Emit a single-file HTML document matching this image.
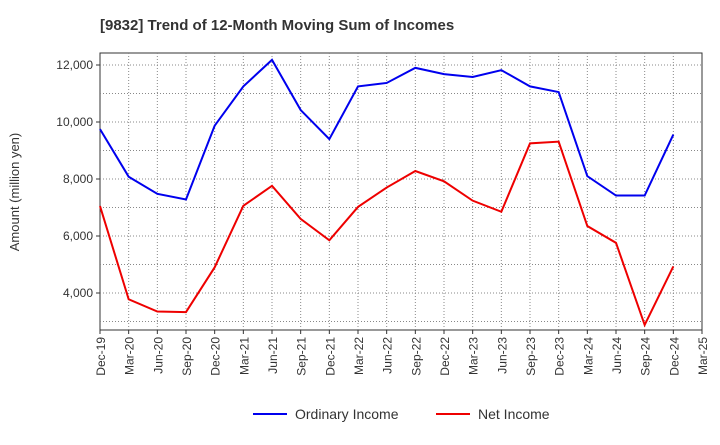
<!DOCTYPE html>
<html><head><meta charset="utf-8"><style>
body{margin:0;background:#fff;font-family:"Liberation Sans",sans-serif;}
svg text{font-family:"Liberation Sans",sans-serif;}
</style></head><body>
<svg id="chart" width="720" height="440" xmlns="http://www.w3.org/2000/svg">
<text x="100" y="30" font-size="15" font-weight="bold" fill="#333">[9832]  Trend of 12-Month Moving Sum of Incomes</text>
<g id="grid"></g><g id="axes"></g><g id="series"></g>
<text transform="translate(19,192) rotate(-90)" text-anchor="middle" font-size="13" fill="#333">Amount (million yen)</text>
<g>
<line x1="253" y1="414" x2="287" y2="414" stroke="#0000ee" stroke-width="2"/>
<text x="295" y="419" font-size="14" fill="#333">Ordinary Income</text>
<line x1="436" y1="414" x2="470" y2="414" stroke="#ee0000" stroke-width="2"/>
<text x="478" y="419" font-size="14" fill="#333">Net Income</text>
</g>
</svg>
<script>
const categories=["Dec-19","Mar-20","Jun-20","Sep-20","Dec-20","Mar-21","Jun-21","Sep-21","Dec-21","Mar-22","Jun-22","Sep-22","Dec-22","Mar-23","Jun-23","Sep-23","Dec-23","Mar-24","Jun-24","Sep-24","Dec-24","Mar-25"];
const ordinaryIncome=[9750,8080,7480,7280,9870,11250,12180,10420,9400,11250,11370,11900,11680,11580,11820,11250,11050,8100,7420,7420,9560];
const netIncome=[7050,3780,3350,3330,4900,7060,7760,6600,5850,7020,7700,8280,7920,7240,6850,9250,9310,6350,5760,2880,4930];
const yTicks=[4000,6000,8000,10000,12000];
const yTickLabels=["4,000","6,000","8,000","10,000","12,000"];
const NS="http://www.w3.org/2000/svg";
const L=100,R=702,T=53,B=330;
const xs=i=>L+i*(R-L)/(categories.length-1);
const ys=v=>293-(v-4000)*57/2000;
function mk(tag,attrs,parent){const e=document.createElementNS(NS,tag);for(const k in attrs)e.setAttribute(k,attrs[k]);parent.appendChild(e);return e;}
const grid=document.getElementById('grid'),axes=document.getElementById('axes'),series=document.getElementById('series');
const frame=mk('rect',{x:L,y:T,width:R-L,height:B-T,fill:'#fff',stroke:'#333','stroke-width':1},grid);


categories.forEach((c,i)=>{
 const x=xs(i);
 if(i>0&&i<categories.length-1){const g=mk('line',{x1:x,x2:x,y1:T,y2:B,stroke:'#888','stroke-dasharray':'1,2'},grid);
 
 }
 mk('line',{x1:x,x2:x,y1:B,y2:B+4,stroke:'#333'},axes);
 const t=mk('text',{transform:`translate(${x+5},${B+7}) rotate(-90)`,'text-anchor':'end','font-size':12,fill:'#333'},axes);
 t.textContent=c;
 
 
});
for(let v=3000;v<=12400;v+=1000){const y=ys(v);if(y<=T||y>=B)continue;
 const g=mk('line',{x1:L,x2:R,y1:y,y2:y,stroke:'#888','stroke-dasharray':'1,2'},grid);
 
 }
yTicks.forEach((v,i)=>{const y=ys(v);
 mk('line',{x1:L-4,x2:L,y1:y,y2:y,stroke:'#333'},axes);
 const t=mk('text',{x:L-7,y:y+4,'text-anchor':'end','font-size':12,fill:'#333'},axes);
 t.textContent=yTickLabels[i];
 
 
});
function line(vals,color,name){
 const p=mk('polyline',{points:vals.map((v,i)=>xs(i)+','+ys(v)).join(' '),fill:'none',stroke:color,'stroke-width':2},series);
 
 
}
line(ordinaryIncome,'#0000ee','ordinary-income-line');
line(netIncome,'#ee0000','net-income-line');
</script>
</body></html>
